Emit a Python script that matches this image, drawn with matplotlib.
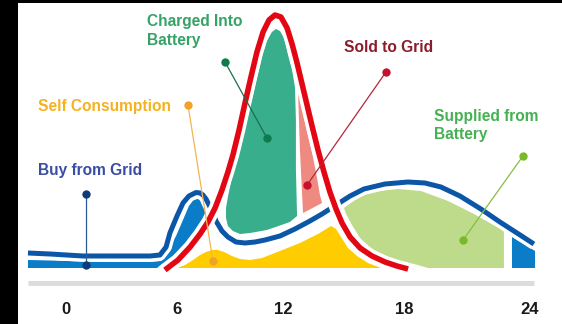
import matplotlib
matplotlib.use("Agg")
import matplotlib.pyplot as plt
import matplotlib.patheffects as pe
from matplotlib.patches import Rectangle

# ---------------- data (hours, kW) ----------------
load_h = [-1.98, -0.83, 0.89, 2.81, 4.37, 4.89, 5.21, 5.41, 5.78, 6.09, 6.40, 6.77, 6.98, 7.13,
          7.29, 7.55, 7.81, 8.12, 8.43, 8.85, 9.32, 9.84, 10.36, 11.14, 11.92, 12.70, 13.33,
          13.90, 14.79, 15.51, 16.61, 17.80, 18.69, 19.52, 20.51, 21.60, 22.59, 23.64, 24.36]
load_v = [0.60, 0.56, 0.48, 0.48, 0.48, 0.52, 0.84, 1.40, 2.08, 2.60, 2.88, 3.02, 3.00, 2.92,
          2.76, 2.36, 1.88, 1.48, 1.24, 1.04, 1.00, 1.04, 1.12, 1.28, 1.56, 1.88, 2.16,
          2.44, 2.88, 3.16, 3.36, 3.44, 3.40, 3.24, 2.88, 2.36, 1.84, 1.32, 0.96]

solar_h = [5.15, 5.83, 6.46, 6.98, 7.39, 7.76, 8.12, 8.43, 8.69, 9.01, 9.32, 9.63, 9.94, 10.26,
           10.57, 10.88, 11.19, 11.51, 11.77, 12.03, 12.29, 12.55, 12.81, 13.12, 13.43, 13.74,
           14.06, 14.37, 14.79, 15.31, 15.93, 16.61, 17.23, 17.81]
solar_v = [-0.08, 0.32, 0.84, 1.36, 1.84, 2.40, 3.12, 3.84, 4.52, 5.52, 6.60, 7.64, 8.64, 9.44,
           9.92, 10.12, 10.04, 9.60, 8.96, 8.20, 7.36, 6.52, 5.68, 4.72, 3.84, 3.04,
           2.36, 1.80, 1.24, 0.80, 0.48, 0.24, 0.08, -0.04]

# area outlines
buy_left_h = [-1.98, -0.83, 0.89, 2.81, 4.37, 4.95, 5.20, 5.31, 5.73, 6.09, 6.40, 6.61, 6.82,
              6.98, 7.03, 7.26, 7.10, 6.70, 6.20, 5.58, 4.89, 4.74, -1.98]
buy_left_v = [0.32, 0.30, 0.26, 0.24, 0.24, 0.28, 0.46, 0.72, 1.28, 1.92, 2.48, 2.70, 2.76,
              2.74, 2.60, 2.22, 1.97, 1.51, 1.00, 0.50, 0.10, 0.0, 0.0]
buy_right_h = [23.22, 24.42, 24.42, 23.22]
buy_right_v = [1.24, 0.68, 0.0, 0.0]

self_h = [5.78, 6.20, 6.61, 6.98, 7.29, 7.60, 7.91, 8.23, 8.64, 9.06, 9.58, 10.20, 11.14,
          12.18, 13.12, 13.80, 14.06, 14.32, 14.68, 15.15, 15.72, 16.40]
self_v = [0.0, 0.12, 0.32, 0.52, 0.64, 0.72, 0.72, 0.64, 0.48, 0.36, 0.32, 0.40, 0.68,
          1.00, 1.36, 1.68, 1.56, 1.24, 0.80, 0.48, 0.20, 0.0]

charged_h = [8.43, 8.33, 8.33, 8.43, 8.59, 8.80, 9.06, 9.27, 9.48, 9.68, 9.94, 10.20, 10.46,
             10.72, 10.93, 11.14, 11.35, 11.56, 11.77, 11.92, 11.97, 11.97, 12.03, 11.66,
             10.46, 9.58, 9.06, 8.69]
charged_v = [1.68, 2.00, 2.40, 2.84, 3.44, 4.04, 4.72, 5.40, 6.12, 6.72, 7.60, 8.44, 9.08,
             9.44, 9.56, 9.48, 9.20, 8.52, 7.92, 7.24, 5.92, 3.92, 2.08, 1.84,
             1.52, 1.40, 1.36, 1.48]

sold_h = [12.08, 12.23, 12.44, 12.65, 12.86, 13.07, 13.22, 13.33, 12.34, 12.18]
sold_v = [7.04, 6.52, 5.84, 5.12, 4.44, 3.60, 2.92, 2.60, 2.20, 4.72]

battery_h = [14.47, 15.05, 15.51, 16.35, 17.28, 18.48, 19.89, 21.24, 22.80, 22.80, 18.85,
             18.12, 16.97, 15.93, 15.31, 14.89, 14.58]
battery_v = [2.40, 2.72, 2.92, 3.08, 3.16, 3.08, 2.68, 2.16, 1.48, 0.0, 0.0,
             0.16, 0.36, 0.76, 1.20, 1.72, 2.16]

# annotations: label, text anchor (h, v), label dot (h, v), area dot (h, v)
labels = ["Charged Into\nBattery", "Self Consumption", "Buy from Grid",
          "Sold to Grid", "Supplied from\nBattery"]
label_pos = [(4.22, 8.94), (-1.46, 6.30), (-1.46, 3.74), (14.47, 8.62), (19.16, 5.14)]
dot_start = [(8.28, 8.24), (6.35, 6.52), (1.04, 2.96), (16.66, 7.84), (23.79, 4.48)]
dot_end = [(10.46, 5.20), (7.65, 0.28), (1.04, 0.12), (12.55, 3.32), (20.67, 1.12)]

tick_labels = ["0", "6", "12", "18", "24"]
tick_pos = [0, 5.78, 11.3, 17.6, 24.16]

# ---------------- styles ----------------
C_LOAD = "#0b56a6"
C_SOLAR = "#e30613"
C_BUY = "#0a7cc8"
C_SELF = "#ffcc00"
C_CHARGED = "#38ae8c"
C_SOLD = "#ee8a80"
C_BATT = "#bedb8c"

text_colors = ["#35a266", "#f5b120", "#3a4ca3", "#8c1c2c", "#45b152"]
dot_colors = ["#0f7a4e", "#f2a22a", "#0d3c78", "#c8102e", "#7ab929"]
line_colors = ["#17704c", "#f1b456", "#2d5b9a", "#b2283c", "#86bd42"]

FONT = "Liberation Sans"

fig = plt.figure(figsize=(5.62, 3.24), dpi=100)
ax = fig.add_axes([0, 0, 1, 1])
ax.set_xlim(-3.436, 25.823)
ax.set_ylim(-2.24, 10.72)
ax.axis("off")

# fills
ax.fill(buy_left_h, buy_left_v, color=C_BUY, lw=0, zorder=1)
ax.fill(buy_right_h, buy_right_v, color=C_BUY, lw=0, zorder=1)
ax.fill(self_h, self_v, color=C_SELF, lw=0, zorder=1)
ax.fill(charged_h, charged_v, color=C_CHARGED, lw=0, zorder=1)
ax.fill(sold_h, sold_v, color=C_SOLD, lw=0, zorder=1)
ax.fill(battery_h, battery_v, color=C_BATT, lw=0, zorder=1)

# axis bar
ax.plot([load_h[0], load_h[-1]], [-0.58, -0.58], color="#dcdcdc", lw=3.6,
        solid_capstyle="butt", zorder=1)

# curves with white halo
ax.plot(load_h, load_v, color=C_LOAD, lw=3.6, solid_capstyle="butt", solid_joinstyle="round",
        zorder=3, path_effects=[pe.Stroke(linewidth=8.4, foreground="white"), pe.Normal()])
ax.plot(solar_h, solar_v, color=C_SOLAR, lw=4.0, solid_capstyle="butt", solid_joinstyle="round",
        zorder=4, path_effects=[pe.Stroke(linewidth=9.0, foreground="white"), pe.Normal()])

# annotations
for lab, (tx, ty), (x0, y0), (x1, y1), tc, dc, lc in zip(
        labels, label_pos, dot_start, dot_end, text_colors, dot_colors, line_colors):
    ax.plot([x0, x1], [y0, y1], color=lc, lw=0.9, zorder=6)
    ax.plot([x0, x1], [y0, y1], ls="none", marker="o", ms=6.0, color=dc, mec="none", zorder=7)
    ax.text(tx, ty, lab, color=tc, fontsize=11.2, fontweight="bold", family=FONT,
            ha="left", va="baseline", linespacing=1.33, zorder=8)

for p, t in zip(tick_pos, tick_labels):
    ax.text(p, -1.83, t, color="#1a1a1a", fontsize=12, fontweight="bold", family=FONT,
            ha="center", va="baseline")

# black frame strips
fig.add_artist(Rectangle((0, 0), 18 / 562, 1, transform=fig.transFigure, color="black", lw=0))
fig.add_artist(Rectangle((0, 1 - 3.3 / 324), 1, 3.3 / 324, transform=fig.transFigure,
                         color="black", lw=0))

fig.savefig("out.png", dpi=100)
